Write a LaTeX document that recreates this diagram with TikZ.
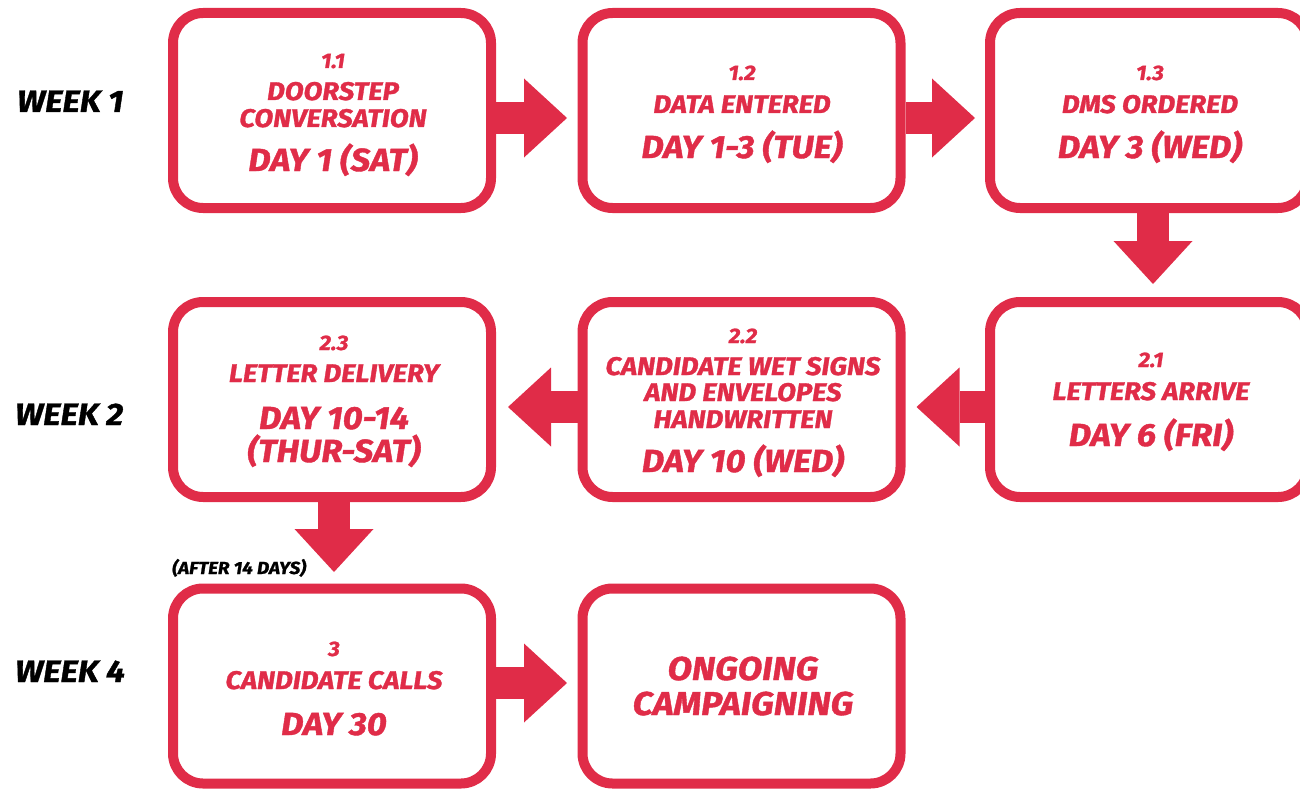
\documentclass[tikz,border=0pt]{standalone}
\usepackage{fontspec}
\setmainfont{Fira Sans}[BoldItalicFeatures={FakeStretch=1.08,FakeBold=1.2}]
\usetikzlibrary{arrows.meta,calc}
\definecolor{cred}{HTML}{E02C48}
\begin{document}
\begin{tikzpicture}[x=1pt,y=-1pt,
  box/.style={draw=cred, line width=10pt, rounded corners=30pt, minimum width=318pt, minimum height=195pt, inner sep=0pt, fill=white},
  flow/.style={draw=cred, line width=32pt, -{Triangle[width=79pt,length=43pt,line width=0pt]}},
  num/.style={text=cred, font=\bfseries\itshape\fontsize{21}{21}\selectfont, anchor=base, inner sep=0pt},
  ttl/.style={text=cred, font=\bfseries\itshape\fontsize{25.5}{25.5}\selectfont, anchor=base, inner sep=0pt},
  day/.style={text=cred, font=\bfseries\itshape\fontsize{32}{32}\selectfont, anchor=base, inner sep=0pt},
  big/.style={text=cred, font=\bfseries\itshape\fontsize{33}{33}\selectfont, anchor=base, inner sep=0pt},
  wk/.style={text=black, font=\bfseries\itshape\fontsize{31}{31}\selectfont, anchor=base west, inner sep=0pt},
  note/.style={text=black, font=\bfseries\itshape\fontsize{17.5}{17.5}\selectfont, anchor=base west, inner sep=0pt}
]
\useasboundingbox (0,0) rectangle (1300,789);

% boxes
\node[box] (b11) at (332,110.5) {};
\node[box] (b12) at (741.5,110.5) {};
\node[box] (b13) at (1149,110.5) {};
\node[box] (b23) at (332,399.5) {};
\node[box] (b22) at (741.5,399.5) {};
\node[box] (b21) at (1149,399.5) {};
\node[box] (b3) at (332,686) {};
\node[box] (b4) at (741.5,686) {};

% connectors
\draw[flow] ($(b11.east)+(0,7.5)$) -- ($(b12.west)+(-10.5,7.5)$);
\draw[flow] ($(b12.east)+(0,7.5)$) -- ($(b13.west)+(-10,7.5)$);
\draw[flow] ($(b13.south)+(4,0)$) -- ($(b21.north)+(4,-13)$);
\draw[flow] ($(b21.west)+(0,7.5)$) -- ($(b22.east)+(11,7.5)$);
\draw[flow] ($(b22.west)+(0,7.5)$) -- ($(b23.east)+(12,7.5)$);
\draw[flow] ($(b23.south)+(2,0)$) -- ($(b3.north)+(2,-11.5)$);
\draw[flow] ($(b3.east)+(0,-3)$) -- ($(b4.west)+(-10.5,-3)$);

% week labels
\node[wk] (w1) at (17,112) {WEEK 1};
\node[wk] (w2) at (15,425) {WEEK 2};
\node[wk] (w4) at (15,682) {WEEK 4};
\node[note] (after) at (172,574) {(AFTER 14 DAYS)};

% box 1.1
\node[num] (n11) at (333,68) {1.1};
\node[ttl] (t11a) at (333,100) {DOORSTEP};
\node[ttl] (t11b) at (333,127) {CONVERSATION};
\node[day] (d11) at (333,171) {DAY 1 (SAT)};
% box 1.2
\node[num] (n12) at (742,80) {1.2};
\node[ttl] (t12) at (742,113) {DATA ENTERED};
\node[day] (d12) at (742,158) {DAY 1-3 (TUE)};
% box 1.3
\node[num] (n13) at (1150,80) {1.3};
\node[ttl] (t13) at (1150,113) {DMS ORDERED};
\node[day] (d13) at (1150,158) {DAY 3 (WED)};
% box 2.1
\node[num] (n21) at (1151,367) {2.1};
\node[ttl] (t21) at (1151,400) {LETTERS ARRIVE};
\node[day] (d21) at (1151,446) {DAY 6 (FRI)};
% box 2.2
\node[num] (n22) at (743,343) {2.2};
\node[ttl] (t22a) at (743,375) {CANDIDATE WET SIGNS};
\node[ttl] (t22b) at (743,401) {AND ENVELOPES};
\node[ttl] (t22c) at (743,428) {HANDWRITTEN};
\node[day] (d22) at (743,472) {DAY 10 (WED)};
% box 2.3
\node[num] (n23) at (334,350) {2.3};
\node[ttl] (t23) at (334,382) {LETTER DELIVERY};
\node[day] (d23a) at (334,429) {DAY 10-14};
\node[day] (d23b) at (334,462) {(THUR-SAT)};
% box 3
\node[num] (n3) at (334,656) {3};
\node[ttl] (t3) at (334,689) {CANDIDATE CALLS};
\node[day] (d3) at (334,735) {DAY 30};
% box 4
\node[big] (t4a) at (743,680) {ONGOING};
\node[big] (t4b) at (743,715) {CAMPAIGNING};
\end{tikzpicture}
\end{document}
